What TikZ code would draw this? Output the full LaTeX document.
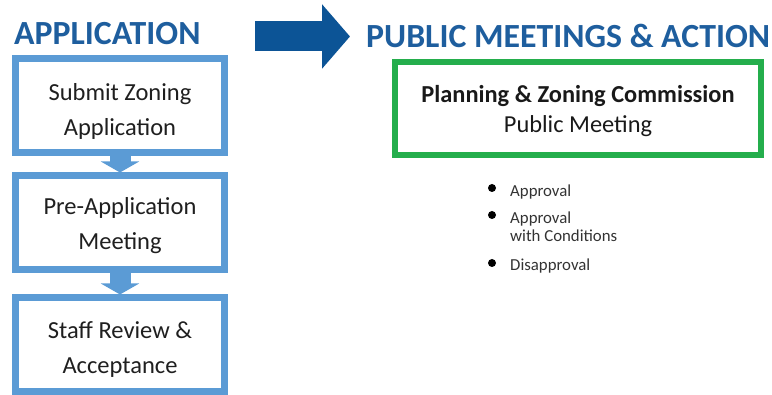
\documentclass[tikz,border=0pt]{standalone}
\usepackage{fontspec}
\setmainfont{Carlito}
\usetikzlibrary{arrows.meta}

\definecolor{stepblue}{RGB}{91,155,213}
\definecolor{headblue}{RGB}{30,94,158}
\definecolor{arrowblue}{RGB}{12,84,150}
\definecolor{boardgreen}{RGB}{36,174,76}

% invisible strut that pushes the first text line down
\newcommand{\lift}[1]{\rule{0pt}{#1}}

\tikzset{
    heading/.style={anchor=base west, inner sep=0pt, text=headblue, font=\fontsize{33.8}{36}\selectfont\bfseries},
    stagebox/.style={draw=stepblue, line width=7pt, minimum width=209pt, minimum height=94pt,
        inner sep=0pt, align=center, text=black!88, font=\fontsize{24.5}{35}\selectfont},
    boardbox/.style={draw=boardgreen, line width=6pt, minimum width=366pt, minimum height=93pt,
        inner sep=0pt, align=center, text=black!90, font=\fontsize{24.4}{30}\selectfont},
    stepflow/.style={draw=stepblue, line width=21pt, -{Triangle[width=38pt,length=11pt]}},
    bigflow/.style={draw=arrowblue, line width=30pt, -{Triangle[width=63pt,length=28pt]}},
    dot/.style={circle, fill=black, inner sep=0pt, minimum size=8pt},
    outcome/.style={anchor=west, inner sep=0pt, align=left, text=black!80, font=\fontsize{16.8}{18}\selectfont}
}

\begin{document}
\begin{tikzpicture}[x=1pt, y=-1pt]
    \useasboundingbox (0,0) rectangle (772,395);

    % headings
    \node[heading] (app) at (14,45) {APPLICATION};
    \node[heading] (pub) at (366,48) {PUBLIC MEETINGS \& ACTION};
    \coordinate (go1) at (255,36.5);
    \coordinate (go2) at (350,36.5);
    \draw[bigflow] (go1) -- (go2);

    % application steps
    \node[stagebox] (submit) at (120,106) {\lift{28pt}Submit Zoning\\Application};
    \node[stagebox] (preapp) at (120,223) {\lift{22pt}Pre-Application\\Meeting};
    \node[stagebox] (review) at (120,345) {\lift{26pt}Staff Review \&\\Acceptance};
    \draw[stepflow] (submit.south) -- (preapp.north);
    \draw[stepflow] (preapp.south) -- (review.north);

    % commission
    \node[boardbox] (pz) at (578,109) {\lift{22pt}\textbf{Planning \& Zoning Commission}\\Public Meeting};

    % possible actions
    \node[dot] (d1) at (492,188) {};
    \node[dot] (d2) at (492,215) {};
    \node[dot] (d3) at (492,263) {};
    \node[outcome] (o1) at (510,192) {Approval};
    \node[outcome] (o2) at (510,227) {Approval\\with Conditions};
    \node[outcome] (o3) at (510,266) {Disapproval};
\end{tikzpicture}
\end{document}
